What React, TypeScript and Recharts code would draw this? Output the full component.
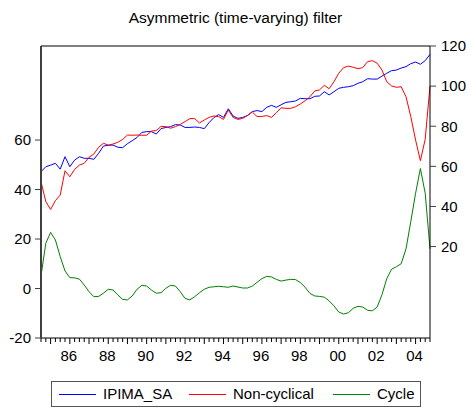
import React from 'react';
import { LineChart, Line, XAxis, YAxis, ReferenceLine } from 'recharts';

// quarterly observations, 1984Q3 .. 2004Q4
const quarters: string[] = [];
for (let yr = 1984; yr <= 2004; yr++) {
  for (let q = 1; q <= 4; q++) {
    if (yr === 1984 && q < 3) continue;
    quarters.push(`${yr}Q${q}`);
  }
}

const ipimaSa = [
  57.3, 59.8, 60.6, 61.5, 58.6, 64.8, 59.8, 63.1, 64.8, 64.0,
  64.0, 63.5, 66.5, 70.1, 70.5, 70.6, 69.5, 69.3, 71.3, 72.8,
  74.4, 76.9, 77.3, 77.3, 76.1, 78.8, 79.4, 79.8, 80.8, 80.6,
  79.4, 79.4, 79.6, 79.4, 78.8, 81.8, 84.3, 85.8, 84.4, 88.7,
  85.1, 83.9, 84.4, 85.3, 87.3, 87.8, 87.3, 89.4, 90.4, 89.4,
  90.7, 91.9, 92.2, 92.6, 93.9, 93.7, 93.7, 94.9, 95.1, 97.2,
  95.6, 97.2, 98.9, 99.4, 99.7, 100.2, 101.4, 102.2, 103.7, 103.5,
  103.5, 105.0, 106.4, 107.7, 108.0, 109.0, 109.7, 111.2, 112.0, 110.9,
  112.7, 115.8,
];

const nonCyclical = [
  52.3, 42.4, 38.5, 42.9, 45.7, 57.8, 54.8, 58.5, 60.6, 61.5,
  64.5, 66.1, 69.5, 71.5, 70.6, 71.1, 72.0, 73.4, 75.6, 75.5,
  75.6, 75.5, 75.5, 77.6, 77.8, 79.9, 79.8, 79.0, 79.8, 80.9,
  82.3, 83.8, 83.8, 81.6, 83.1, 84.4, 85.1, 84.8, 83.4, 88.1,
  84.4, 83.4, 83.9, 85.4, 87.1, 84.8, 84.9, 85.3, 84.4, 86.7,
  89.2, 88.9, 88.9, 89.7, 91.1, 92.7, 94.7, 97.6, 98.1, 100.4,
  98.7, 102.2, 106.4, 109.2, 110.0, 109.4, 108.7, 109.2, 112.2, 112.7,
  111.4, 108.0, 102.2, 100.1, 99.4, 99.7, 94.7, 84.8, 73.1, 62.8,
  73.5, 100.1,
];

const cycle = [
  5.1, 18.3, 22.7, 19.6, 12.9, 7.1, 4.4, 4.3, 3.8, 1.4,
  -1.3, -3.3, -3.2, -1.9, -0.3, -0.6, -2.6, -4.4, -4.6, -3.0,
  -0.3, 1.3, 1.0, -0.6, -1.9, -1.7, 0.1, 1.3, 1.0, -1.3,
  -4.0, -4.6, -3.3, -1.7, -0.3, 0.5, 0.7, 0.9, 0.7, 0.5,
  1.0, 0.6, 0.2, 0.2, 1.0, 2.5, 4.0, 4.9, 4.7, 3.7,
  3.0, 3.4, 3.7, 3.6, 2.4, 0.5, -2.0, -3.0, -3.2, -3.5,
  -5.0, -7.0, -9.5, -10.3, -9.8, -8.0, -7.2, -7.5, -8.8, -9.0,
  -7.5, -2.5, 4.0, 7.8, 8.8, 10.0, 16.0, 27.0, 38.5, 48.5,
  38.5, 16.0,
];

const leftTicks = [-20, 0, 20, 40, 60];
const rightTicks = [20, 40, 60, 80, 100, 120];

const data = quarters.map((q, i) => ({
  q,
  ipima: ipimaSa[i],
  nonCyc: nonCyclical[i],
  cycle: cycle[i],
}));

const FONT = '"Liberation Sans", Arial, sans-serif';

const QuarterTick = ({ x, y, payload }: any) => {
  const v: string = payload.value;
  const yr = Number(v.slice(0, 4));
  const isQ1 = v.endsWith('Q1');
  return (
    <g>
      <line x1={x} y1={y} x2={x} y2={y + (isQ1 ? 6 : 4)} stroke="#000" />
      {isQ1 && yr % 2 === 0 && (
        <text x={x - 1} y={y + 23} textAnchor="middle" fontSize={15} fontFamily={FONT} fill="#000">
          {v.slice(2, 4)}
        </text>
      )}
    </g>
  );
};

const legendItems = [
  { label: 'IPIMA_SA', color: '#0000ff', x: 7 },
  { label: 'Non-cyclical', color: '#ff0000', x: 137 },
  { label: 'Cycle', color: '#008000', x: 281 },
];

export default function App() {
  return (
    <div style={{ position: 'absolute', left: 0, top: 0, width: 471, height: 407, background: '#fff', fontFamily: FONT }}>
      <div style={{ position: 'absolute', left: 0, top: 9, width: 471, textAlign: 'center', fontSize: 15.5, lineHeight: '18px' }}>
        Asymmetric (time-varying) filter
      </div>
      <LineChart width={471} height={407} data={data} margin={{ top: 46, right: 0, bottom: 0, left: 0 }}>
        <XAxis
          dataKey="q"
          interval={0}
          tickSize={0}
          tickMargin={0}
          tickLine={false}
          height={69}
          axisLine={{ stroke: '#000' }}
          tick={<QuarterTick />}
          padding={{ left: 0, right: 0 }}
        />
        <YAxis
          yAxisId="left"
          orientation="left"
          width={41}
          domain={[-20, 98]}
          ticks={leftTicks}
          interval={0}
          tickSize={6}
          tickMargin={4}
          allowDataOverflow
          axisLine={{ stroke: '#404040', strokeWidth: 2 }}
          tickLine={{ stroke: '#404040' }}
          tick={{ fontSize: 15, fill: '#000', fontFamily: FONT }}
        />
        <YAxis
          yAxisId="right"
          orientation="right"
          width={41}
          domain={[-25.6, 120]}
          ticks={rightTicks}
          interval={0}
          tickSize={6}
          tickMargin={5}
          allowDataOverflow
          axisLine={{ stroke: '#000' }}
          tickLine={{ stroke: '#404040' }}
          tick={{ fontSize: 15, fill: '#000', fontFamily: FONT }}
        />
        <ReferenceLine yAxisId="right" y={120} stroke="#000" />
        <Line yAxisId="right" type="linear" dataKey="ipima" stroke="#0000ff" strokeWidth={1} dot={false} isAnimationActive={false} />
        <Line yAxisId="right" type="linear" dataKey="nonCyc" stroke="#ff0000" strokeWidth={1} dot={false} isAnimationActive={false} />
        <Line yAxisId="left" type="linear" dataKey="cycle" stroke="#008000" strokeWidth={1} dot={false} isAnimationActive={false} />
      </LineChart>
      <div
        style={{
          position: 'absolute',
          left: 51,
          top: 381,
          width: 368,
          height: 24,
          border: '1px solid #555',
          boxSizing: 'content-box',
        }}
      >
        {legendItems.map((it) => (
          <div key={it.label} style={{ position: 'absolute', left: it.x, top: 0, height: 24, display: 'flex', alignItems: 'center' }}>
            <div style={{ width: 37, height: 1, background: it.color }} />
            <span style={{ marginLeft: 7, fontSize: 15, lineHeight: '24px', color: '#000' }}>{it.label}</span>
          </div>
        ))}
      </div>
    </div>
  );
}
